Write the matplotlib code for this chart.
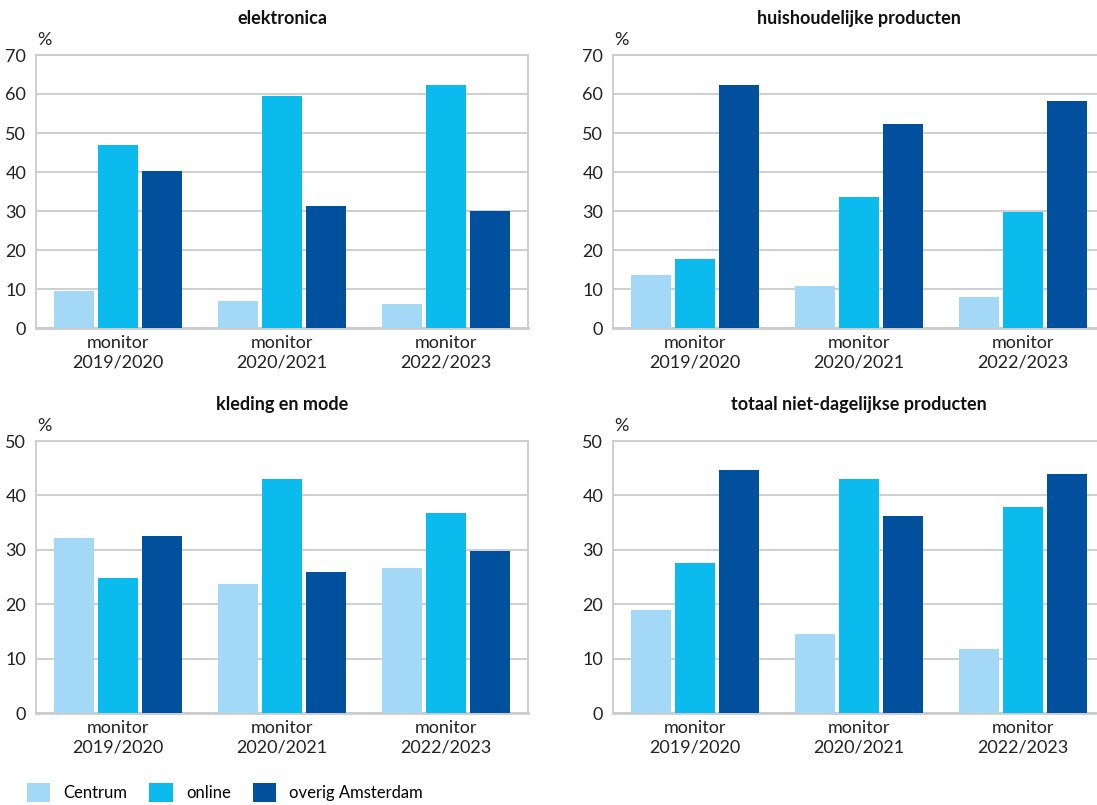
import numpy as np
import matplotlib.pyplot as plt
from matplotlib.patches import Patch

plt.rcParams['font.family'] = ['Lato', 'DejaVu Sans']

# data
periods = ['monitor\n2019/2020', 'monitor\n2020/2021', 'monitor\n2022/2023']
series = ['Centrum', 'online', 'overig Amsterdam']
colors = ['#a3d9f6', '#0bbbee', '#00509e']

elektronica = [[9.4, 6.9, 6.1],      # Centrum
               [47.0, 59.6, 62.2],   # online
               [40.3, 31.3, 30.0]]   # overig Amsterdam
huishoudelijk = [[13.6, 10.7, 7.9],
                 [17.7, 33.6, 29.8],
                 [62.4, 52.4, 58.3]]
kleding = [[32.1, 23.7, 26.6],
           [24.9, 43.1, 36.7],
           [32.5, 25.9, 29.7]]
totaal = [[18.9, 14.5, 11.7],
          [27.5, 43.1, 37.9],
          [44.6, 36.3, 43.9]]

panels = [('elektronica', elektronica, 70),
          ('huishoudelijke producten', huishoudelijk, 70),
          ('kleding en mode', kleding, 50),
          ('totaal niet-dagelijkse producten', totaal, 50)]

W, H = 1097, 805
fig = plt.figure(figsize=(W / 100, H / 100), dpi=100)

# axes boxes in pixels: left, top, right, bottom
boxes = [(36, 55, 528, 328), (613, 55, 1105, 328),
         (36, 441, 528, 713), (613, 441, 1105, 713)]

grid_col = '#cccccc'
x = np.arange(len(periods))
bw = 0.244
step = 0.268

for (title, vals, ymax), (l, t, r, b) in zip(panels, boxes):
    ax = fig.add_axes([l / W, 1 - b / H, (r - l) / W, (b - t) / H])
    for i in range(3):
        ax.bar(x + (i - 1) * step, vals[i], width=bw, color=colors[i], zorder=3)
    ax.set_xlim(-0.5, 2.5)
    ax.set_ylim(0, ymax)
    ax.set_yticks(np.arange(0, ymax + 1, 10))
    ax.set_xticks(x)
    ax.set_xticklabels(periods, linespacing=1.3)
    ax.yaxis.grid(True, color=grid_col, linewidth=1.3, zorder=0)
    ax.tick_params(length=0, labelsize=13, colors='#222222')
    ax.tick_params(axis='y', pad=7)
    ax.tick_params(axis='x', pad=5)
    for s in ax.spines.values():
        s.set_color(grid_col)
        s.set_linewidth(1.3)
    ax.spines['bottom'].set_linewidth(2)
    ax.set_title(title, fontsize=13, fontweight='bold', pad=22, color='#111111')
    ax.text(0.003, 1.025, '%', transform=ax.transAxes, fontsize=13,
            ha='left', va='bottom', color='#222222')

handles = [Patch(facecolor=c) for c in colors]
fig.legend(handles, series, loc='lower left', bbox_to_anchor=(27 / W, 3 / H),
           ncol=3, frameon=False, fontsize=12, handlelength=1.4,
           handleheight=1.4, handletextpad=0.8, columnspacing=1.3,
           borderpad=0, borderaxespad=0)

fig.savefig('out.png', dpi=100)
